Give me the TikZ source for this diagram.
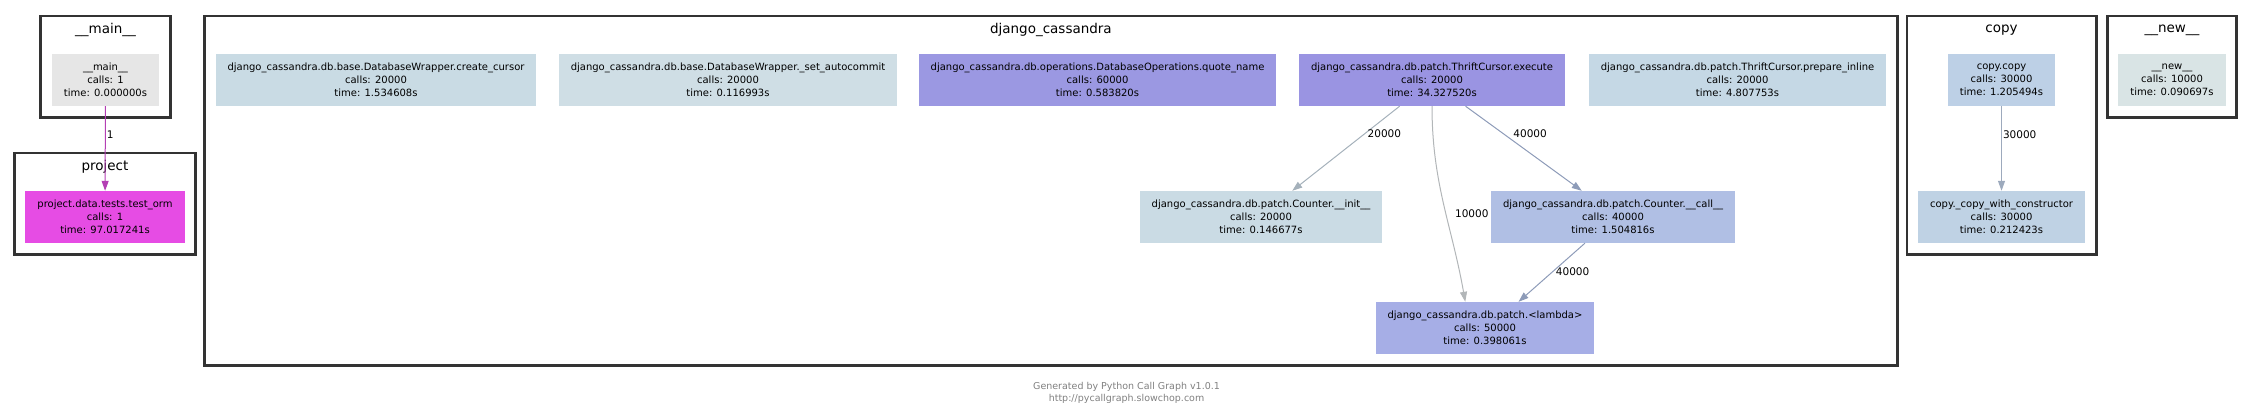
\documentclass[tikz,border=0pt]{standalone}
\usepackage{fontspec}
\setmainfont{DejaVu Sans}
\usetikzlibrary{arrows.meta, positioning, fit}
\definecolor{mainfill}{HTML}{E6E6E6}
\definecolor{projfill}{HTML}{E64CE4}
\definecolor{ccfill}{HTML}{C9DBE4}
\definecolor{safill}{HTML}{CFDEE5}
\definecolor{qnfill}{HTML}{9B98E2}
\definecolor{execfill}{HTML}{9A94E2}
\definecolor{pifill}{HTML}{C5D8E5}
\definecolor{initfill}{HTML}{CADBE4}
\definecolor{callfill}{HTML}{B0BFE4}
\definecolor{lamfill}{HTML}{A6AEE6}
\definecolor{copyfill}{HTML}{BDD0E6}
\definecolor{cwcfill}{HTML}{BFD2E4}
\definecolor{newfill}{HTML}{D9E4E5}
\definecolor{edgemain}{HTML}{B43FB4}
\definecolor{edgeinit}{HTML}{A5B1BB}
\definecolor{edgelam}{HTML}{B2B6B8}
\definecolor{edgecall}{HTML}{8D9BB8}
\definecolor{edgecopy}{HTML}{9DAABD}
\definecolor{footgray}{HTML}{808080}
\tikzset{
  funcnode/.style  = {rectangle, minimum height=52pt, inner xsep=12pt,
                      inner ysep=0pt, align=center,
                      font=\fontsize{10}{13}\selectfont},
  pkgbox/.style    = {draw=black!80, line width=2.7pt, inner sep=11pt},
  pkglabel/.style  = {font=\fontsize{13.5}{16}\selectfont, inner sep=0pt},
  callline/.style  = {-{Triangle[length=10pt, width=7pt]}, line width=1pt},
  calllabel/.style = {font=\fontsize{10.5}{12}\selectfont, inner sep=1pt},
}
\newcommand{\fcall}[3]{#1\\calls: #2\\time: #3s}

\begin{document}
\begin{tikzpicture}[x=1pt, y=-1pt]
  \useasboundingbox (0,0) rectangle (2253,419);

  % function nodes
  \node[funcnode, fill=mainfill] (main) at (105.5,80)
    {\fcall{\_\_main\_\_}{1}{0.000000}};
  \node[funcnode, fill=projfill] (proj) at (105,217)
    {\fcall{project.data.tests.test\_orm}{1}{97.017241}};
  \node[funcnode, fill=ccfill] (cc) at (376,80)
    {\fcall{django\_cassandra.db.base.DatabaseWrapper.create\_cursor}{20000}{1.534608}};
  \node[funcnode, fill=safill] (sa) at (728,80)
    {\fcall{django\_cassandra.db.base.DatabaseWrapper.\_set\_autocommit}{20000}{0.116993}};
  \node[funcnode, fill=qnfill] (qn) at (1097.5,80)
    {\fcall{django\_cassandra.db.operations.DatabaseOperations.quote\_name}{60000}{0.583820}};
  \node[funcnode, fill=execfill] (exec) at (1432,80)
    {\fcall{django\_cassandra.db.patch.ThriftCursor.execute}{20000}{34.327520}};
  \node[funcnode, fill=pifill] (pi) at (1737.5,80)
    {\fcall{django\_cassandra.db.patch.ThriftCursor.prepare\_inline}{20000}{4.807753}};
  \node[funcnode, fill=initfill] (init) at (1261,217)
    {\fcall{django\_cassandra.db.patch.Counter.\_\_init\_\_}{20000}{0.146677}};
  \node[funcnode, fill=callfill] (call) at (1613,217)
    {\fcall{django\_cassandra.db.patch.Counter.\_\_call\_\_}{40000}{1.504816}};
  \node[funcnode, fill=lamfill] (lam) at (1485,328)
    {\fcall{django\_cassandra.db.patch.\textless lambda\textgreater}{50000}{0.398061}};
  \node[funcnode, fill=copyfill] (copy) at (2001.5,80)
    {\fcall{copy.copy}{30000}{1.205494}};
  \node[funcnode, fill=cwcfill] (cwc) at (2001.5,217)
    {\fcall{copy.\_copy\_with\_constructor}{30000}{0.212423}};
  \node[funcnode, fill=newfill] (new) at (2172,80)
    {\fcall{\_\_new\_\_}{10000}{0.090697}};

  % package boxes
  \coordinate (tmain) at (105,27);
  \coordinate (tproj) at (105,164);
  \coordinate (tdj)   at (1050,27);
  \coordinate (tcopy) at (2001,27);
  \coordinate (tnew)  at (2172,27);
  \node[pkgbox, fit=(tmain)(main)] (gmain) {};
  \node[pkgbox, fit=(tproj)(proj)] (gproj) {};
  \node[pkgbox, fit=(tdj)(cc)(pi)(lam)] (gdj) {};
  \node[pkgbox, fit=(tcopy)(copy)(cwc)] (gcopy) {};
  \node[pkgbox, fit=(tnew)(new)] (gnew) {};
  \node[pkglabel] at ([yshift=-15.5pt]gmain.north) {\_\_main\_\_};
  \node[pkglabel] at ([yshift=-15.5pt]gproj.north) {project};
  \node[pkglabel] at ([yshift=-15.5pt]gdj.north) {django\_cassandra};
  \node[pkglabel] at ([yshift=-15.5pt]gcopy.north) {copy};
  \node[pkglabel] at ([yshift=-15.5pt]gnew.north) {\_\_new\_\_};

  % calls
  \draw[callline, edgemain] (main) -- node[calllabel, right, pos=.34, text=black] {1} (proj);
  \draw[callline, edgeinit] (exec.219) -- node[calllabel, right=2pt, pos=.33, text=black] {20000} (init.40);
  \draw[callline, edgecall] (exec.322) -- node[calllabel, right=8pt, pos=.33, text=black] {40000} (call.140);
  \draw[callline, edgelam] (exec.south) to[out=-90, in=100]
    node[calllabel, right=8pt, pos=.55, text=black] {10000} (lam.127);
  \draw[callline, edgecall] (call.223) -- node[calllabel, right=2pt, pos=.49, text=black] {40000} (lam.38);
  \draw[callline, edgecopy] (copy) -- node[calllabel, right=0pt, pos=.34, text=black] {30000} (cwc);

  % footer
  \node[calllabel, text=footgray, align=center, font=\fontsize{9.5}{12}\selectfont]
    (foot) at (1126.5,393) {Generated by Python Call Graph v1.0.1\\http://pycallgraph.slowchop.com};
\end{tikzpicture}
\end{document}
